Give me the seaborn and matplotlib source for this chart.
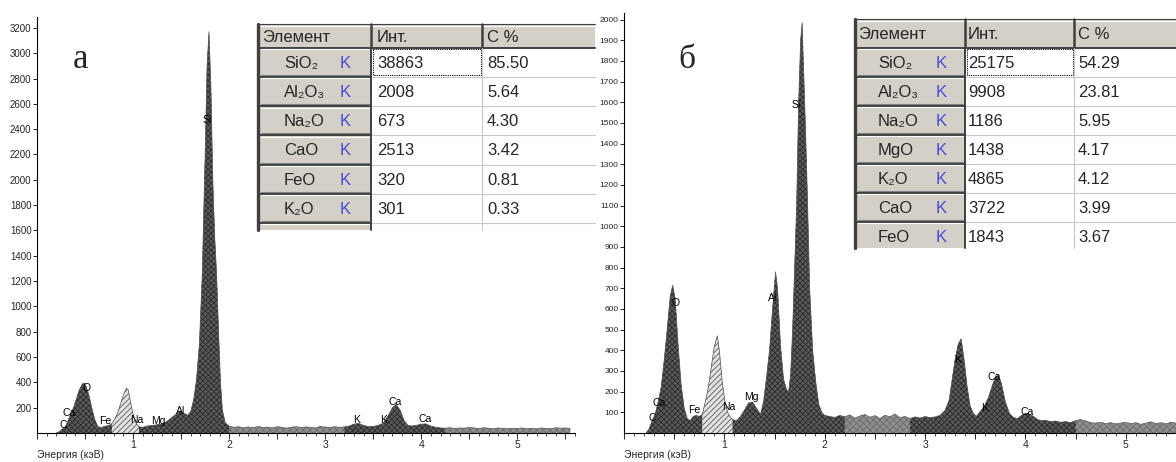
import numpy as np
import matplotlib
matplotlib.use('Agg')
import matplotlib.pyplot as plt
from matplotlib.patches import Rectangle
from matplotlib.ticker import MultipleLocator, FuncFormatter
import seaborn as sns

# spectrum (а)
energy_a = [0.20, 0.23, 0.26, 0.29, 0.32, 0.35, 0.38, 0.41, 0.44, 0.47,
            0.49, 0.51, 0.54, 0.57, 0.60, 0.63, 0.66, 0.69, 0.72, 0.75,
            0.78, 0.81, 0.84, 0.87, 0.90, 0.93, 0.95, 0.97, 1.00, 1.03,
            1.06, 1.10, 1.15, 1.20, 1.25, 1.30, 1.35, 1.40, 1.45, 1.49,
            1.53, 1.57, 1.60, 1.63, 1.66, 1.69, 1.72, 1.75, 1.77, 1.79,
            1.81, 1.83, 1.85, 1.87, 1.89, 1.91, 1.93, 1.96, 2.00, 2.05,
            2.10, 2.15, 2.20, 2.25, 2.30, 2.35, 2.40, 2.45, 2.50, 2.55,
            2.60, 2.65, 2.70, 2.75, 2.80, 2.85, 2.90, 2.95, 3.00, 3.05,
            3.10, 3.15, 3.20, 3.25, 3.30, 3.35, 3.40, 3.45, 3.50, 3.55,
            3.60, 3.65, 3.70, 3.74, 3.78, 3.82, 3.86, 3.90, 3.95, 4.00,
            4.05, 4.10, 4.15, 4.20, 4.25, 4.30, 4.35, 4.40, 4.45, 4.50,
            4.55, 4.60, 4.65, 4.70, 4.75, 4.80, 4.85, 4.90, 4.95, 5.00,
            5.05, 5.10, 5.15, 5.20, 5.25, 5.30, 5.35, 5.40, 5.45, 5.50,
            5.55]
counts_a = [0, 10, 30, 45, 90, 150, 200, 270, 340, 385,
            395, 370, 300, 200, 110, 55, 40, 50, 55, 60,
            75, 110, 160, 230, 300, 355, 340, 260, 150, 80,
            50, 45, 55, 60, 65, 70, 90, 120, 150, 175,
            155, 140, 170, 260, 420, 700, 1250, 2200, 2900, 3170,
            2750, 2000, 1550, 1250, 800, 400, 180, 80, 55, 45,
            50, 40, 48, 42, 52, 44, 47, 40, 50, 45,
            38, 46, 50, 42, 48, 45, 40, 52, 47, 44,
            50, 45, 48, 55, 70, 75, 60, 50, 52, 60,
            75, 130, 200, 225, 180, 100, 60, 55, 60, 70,
            72, 55, 45, 40, 38, 42, 36, 40, 38, 44,
            40, 35, 42, 38, 34, 40, 36, 33, 38, 35,
            40, 34, 38, 32, 40, 36, 33, 42, 38, 40,
            36]

# spectrum (б)
energy_b = [0.22, 0.25, 0.28, 0.31, 0.34, 0.37, 0.40, 0.43, 0.46, 0.485,
            0.51, 0.54, 0.57, 0.60, 0.63, 0.66, 0.69, 0.72, 0.75, 0.78,
            0.81, 0.84, 0.87, 0.90, 0.93, 0.95, 0.98, 1.01, 1.04, 1.08,
            1.12, 1.16, 1.20, 1.24, 1.28, 1.32, 1.36, 1.39, 1.42, 1.45,
            1.48, 1.51, 1.53, 1.56, 1.59, 1.62, 1.64, 1.66, 1.68, 1.70,
            1.72, 1.74, 1.76, 1.775, 1.79, 1.81, 1.83, 1.85, 1.88, 1.91,
            1.94, 1.97, 2.00, 2.05, 2.10, 2.15, 2.20, 2.25, 2.30, 2.35,
            2.40, 2.45, 2.50, 2.55, 2.60, 2.65, 2.70, 2.75, 2.80, 2.85,
            2.90, 2.95, 3.00, 3.05, 3.10, 3.15, 3.20, 3.24, 3.27, 3.30,
            3.33, 3.36, 3.39, 3.42, 3.45, 3.48, 3.51, 3.55, 3.59, 3.63,
            3.67, 3.70, 3.73, 3.76, 3.80, 3.84, 3.88, 3.92, 3.96, 4.00,
            4.04, 4.08, 4.12, 4.16, 4.20, 4.25, 4.30, 4.35, 4.40, 4.45,
            4.50, 4.55, 4.60, 4.65, 4.70, 4.75, 4.80, 4.85, 4.90, 4.95,
            5.00, 5.05, 5.10, 5.15, 5.20, 5.25, 5.30, 5.35, 5.40, 5.45,
            5.50, 5.55]
counts_b = [0, 20, 60, 90, 150, 220, 350, 500, 660, 715,
            650, 420, 230, 120, 70, 60, 80, 85, 80, 90,
            150, 220, 320, 420, 470, 400, 240, 140, 90, 65,
            60, 80, 110, 145, 150, 120, 90, 150, 270, 400,
            600, 780, 700, 420, 260, 210, 200, 280, 500, 800,
            1100, 1600, 1900, 1985, 1750, 1450, 1100, 700, 400, 250,
            140, 100, 85, 80, 75, 85, 78, 88, 72, 82,
            90, 76, 84, 70, 86, 78, 92, 74, 80, 70,
            78, 72, 80, 74, 78, 85, 110, 160, 260, 360,
            430, 455, 350, 220, 130, 95, 80, 105, 130, 170,
            230, 270, 280, 240, 150, 95, 75, 70, 85, 95,
            90, 80, 65, 60, 62, 55, 58, 52, 55, 50,
            60, 65, 58, 50, 48, 52, 45, 50, 44, 48,
            52, 45, 50, 42, 48, 54, 46, 50, 44, 52,
            48, 50]

# peak labels
peak_names = ['C', 'Ca', 'O', 'Fe', 'Na', 'Mg', 'Al', 'Si', 'K', 'K', 'Ca', 'Ca']
peak_e_a = [0.27, 0.33, 0.52, 0.71, 1.04, 1.26, 1.49, 1.77, 3.33, 3.61, 3.73, 4.04]
peak_y_a = [63, 160, 355, 95, 100, 95, 175, 2470, 100, 100, 245, 110]
peak_e_b = [0.28, 0.35, 0.51, 0.70, 1.04, 1.27, 1.48, 1.72, 3.32, 3.59, 3.69, 4.02]
peak_y_b = [73, 145, 630, 111, 126, 174, 655, 1587, 353, 121, 271, 102]

# tables
table_header = ['Элемент', 'Инт.', 'С %']
oxides_a = ['SiO₂', 'Al₂O₃', 'Na₂O', 'CaO', 'FeO', 'K₂O']
intens_a = ['38863', '2008', '673', '2513', '320', '301']
conc_a = ['85.50', '5.64', '4.30', '3.42', '0.81', '0.33']
oxides_b = ['SiO₂', 'Al₂O₃', 'Na₂O', 'MgO', 'K₂O', 'CaO', 'FeO']
intens_b = ['25175', '9908', '1186', '1438', '4865', '3722', '1843']
conc_b = ['54.29', '23.81', '5.95', '4.17', '4.12', '3.99', '3.67']

sns.set_style('white')
plt.rcParams['font.family'] = ['Liberation Sans', 'DejaVu Sans']
plt.rcParams['hatch.linewidth'] = 0.6

W, H = 1176, 462
fig = plt.figure(figsize=(W / 100, H / 100), dpi=100)
ax_a = fig.add_axes([37 / W, 29 / H, 538 / W, 416 / H])
ax_b = fig.add_axes([624 / W, 29 / H, 552 / W, 420 / H])


def draw_spectrum(ax, e, c, dark, na, xmax, ymax, yticks, ylab_size):
    e = np.array(e)
    c = np.array(c)
    ax.fill_between(e, 0, c, facecolor='#8e8e8e', edgecolor='#6c6c6c',
                    hatch='xxxxx', linewidth=0)
    for lo, hi in dark:
        m = (e >= lo) & (e <= hi)
        ax.fill_between(e, 0, c, where=m, facecolor='#5a5a5a',
                        edgecolor='#2a2a2a', hatch='xxxxxx', linewidth=0)
    m = (e >= na[0]) & (e <= na[1])
    ax.fill_between(e, 0, c, where=m, facecolor='#e2e2e2',
                    edgecolor='#5a5a5a', hatch='//////', linewidth=0)
    sns.lineplot(x=e, y=c, ax=ax, color='#5a5a5a', linewidth=0.5)
    ax.set_xlim(0, xmax)
    ax.set_ylim(0, ymax)
    ax.set_yticks(yticks)
    ax.set_xticks(np.arange(0, 5.51, 0.5))
    ax.xaxis.set_minor_locator(MultipleLocator(0.1))
    ax.xaxis.set_major_formatter(FuncFormatter(
        lambda v, p: str(int(round(v))) if v > 0.1 and abs(v - round(v)) < 1e-6 else ''))
    for s in ['top', 'right']:
        ax.spines[s].set_visible(False)
    for s in ['left', 'bottom']:
        ax.spines[s].set_color('black')
        ax.spines[s].set_linewidth(0.8)
    ax.tick_params(axis='y', direction='out', length=3, width=0.7,
                   labelsize=ylab_size, pad=1, left=True)
    ax.tick_params(axis='x', which='major', direction='out', length=4,
                   width=0.7, labelsize=7.5, pad=1, bottom=True)
    ax.tick_params(axis='x', which='minor', direction='out', length=2,
                   width=0.6, bottom=True)
    ax.set_xlabel('Энергия (кэВ)', loc='left', fontsize=7.5, labelpad=0)
    ax.set_ylabel('')
    ax.set_facecolor('white')


draw_spectrum(ax_a, energy_a, counts_a, [(0.2, 0.78), (1.06, 2.0), (3.2, 4.25)],
              (0.78, 1.06), 5.6, 3286, list(range(200, 3201, 200)), 7)
draw_spectrum(ax_b, energy_b, counts_b, [(0.22, 0.78), (1.08, 2.2), (2.85, 4.5)],
              (0.78, 1.08), 552 / 101, 2032, list(range(100, 2001, 100)), 6)

for ax, pe, py in [(ax_a, peak_e_a, peak_y_a), (ax_b, peak_e_b, peak_y_b)]:
    for name, x, y in zip(peak_names, pe, py):
        ax.text(x, y, name, fontsize=7.5, ha='center', va='center', color='black')

# overlay in pixel coordinates for tables and panel letters
ov = fig.add_axes([0, 0, 1, 1], zorder=5)
ov.set_xlim(0, W)
ov.set_ylim(H, 0)
ov.axis('off')

GRAY = '#d4d0c8'
DARK = '#404040'


def draw_table(x_edges, x_right, y_top, y_head, row_h, y_bottom,
               names, ints, concs, name_x, k_x, text_x):
    x0, x1, x2 = x_edges
    ov.add_patch(Rectangle((x0, y_top), x_right - x0, y_head - y_top, fc=GRAY, ec='none'))
    ov.add_patch(Rectangle((x0, y_head), x1 - x0, y_bottom - y_head, fc=GRAY, ec='none'))
    ov.add_patch(Rectangle((x1, y_head), x_right - x1, y_bottom - y_head, fc='white', ec='none'))
    # header
    ov.plot([x0, x_right], [y_top, y_top], color=DARK, lw=0.8)
    ov.plot([x0 + 2, x_right], [y_top + 1.5, y_top + 1.5], color='white', lw=0.8)
    ov.plot([x0, x_right], [y_head, y_head], color=DARK, lw=1.4)
    for xs in (x1, x2):
        ov.plot([xs, xs], [y_top, y_head], color=DARK, lw=1.8)
    for txt, tx in zip(table_header, text_x):
        ov.text(tx, (y_top + y_head) / 2 + 1, txt, fontsize=12, ha='left', va='center')
    # rows
    n = int(np.ceil((y_bottom - y_head) / row_h))
    for k in range(n + 1):
        yb = min(y_head + row_h * k, y_bottom)
        if k > 0 and yb < y_bottom:
            ov.plot([x1, x_right], [yb, yb], color='#c8c8c8', lw=0.8)
            ov.plot([x0, x1], [yb, yb], color=DARK, lw=1.4)
        if k < n:
            ov.plot([x0 + 3, x1 - 2], [yb + 1.5, yb + 1.5], color='white', lw=0.8)
            if y_head + row_h * (k + 1) <= y_bottom:
                ov.plot([x0 + 3, x1 - 2], [yb + row_h - 1.8] * 2, color='#808080', lw=0.8)
    ov.plot([x2, x2], [y_head, y_bottom], color='#c8c8c8', lw=0.8)
    ov.plot([x1, x1], [y_head, y_bottom], color=DARK, lw=1.4)
    ov.plot([x0, x0], [y_top, y_bottom], color=DARK, lw=2.4)
    for i, (nm, it, cc) in enumerate(zip(names, ints, concs)):
        yc = y_head + row_h * (i + 0.5) + 1
        ov.text(name_x, yc, nm, fontsize=12, ha='left', va='center',
                family=['Liberation Sans', 'DejaVu Sans'])
        ov.text(k_x, yc, 'K', fontsize=12, ha='center', va='center', color='#4b4bd2')
        ov.text(text_x[1], yc, it, fontsize=12, ha='left', va='center')
        ov.text(text_x[2], yc, cc, fontsize=12, ha='left', va='center')
    ov.add_patch(Rectangle((x1 + 1.5, y_head + 1.5), x2 - x1 - 3, row_h - 3, fill=False,
                           ec='black', lw=0.8, ls=(0, (1, 1))))


draw_table((258, 371, 482), 595, 24.3, 47.7, 29.2, 230,
           oxides_a, intens_a, conc_a, 284, 345, (262, 377, 487))
draw_table((855, 965, 1074), 1176, 19, 47.7, 29.0, 248.3,
           oxides_b, intens_b, conc_b, 878, 941, (858, 968, 1078))

ov.text(81, 68, 'а', fontsize=25, ha='center', va='baseline', family='Liberation Serif')
ov.text(687, 68, 'б', fontsize=24, ha='center', va='baseline', family='Liberation Serif')

fig.savefig('out.png', dpi=100)
